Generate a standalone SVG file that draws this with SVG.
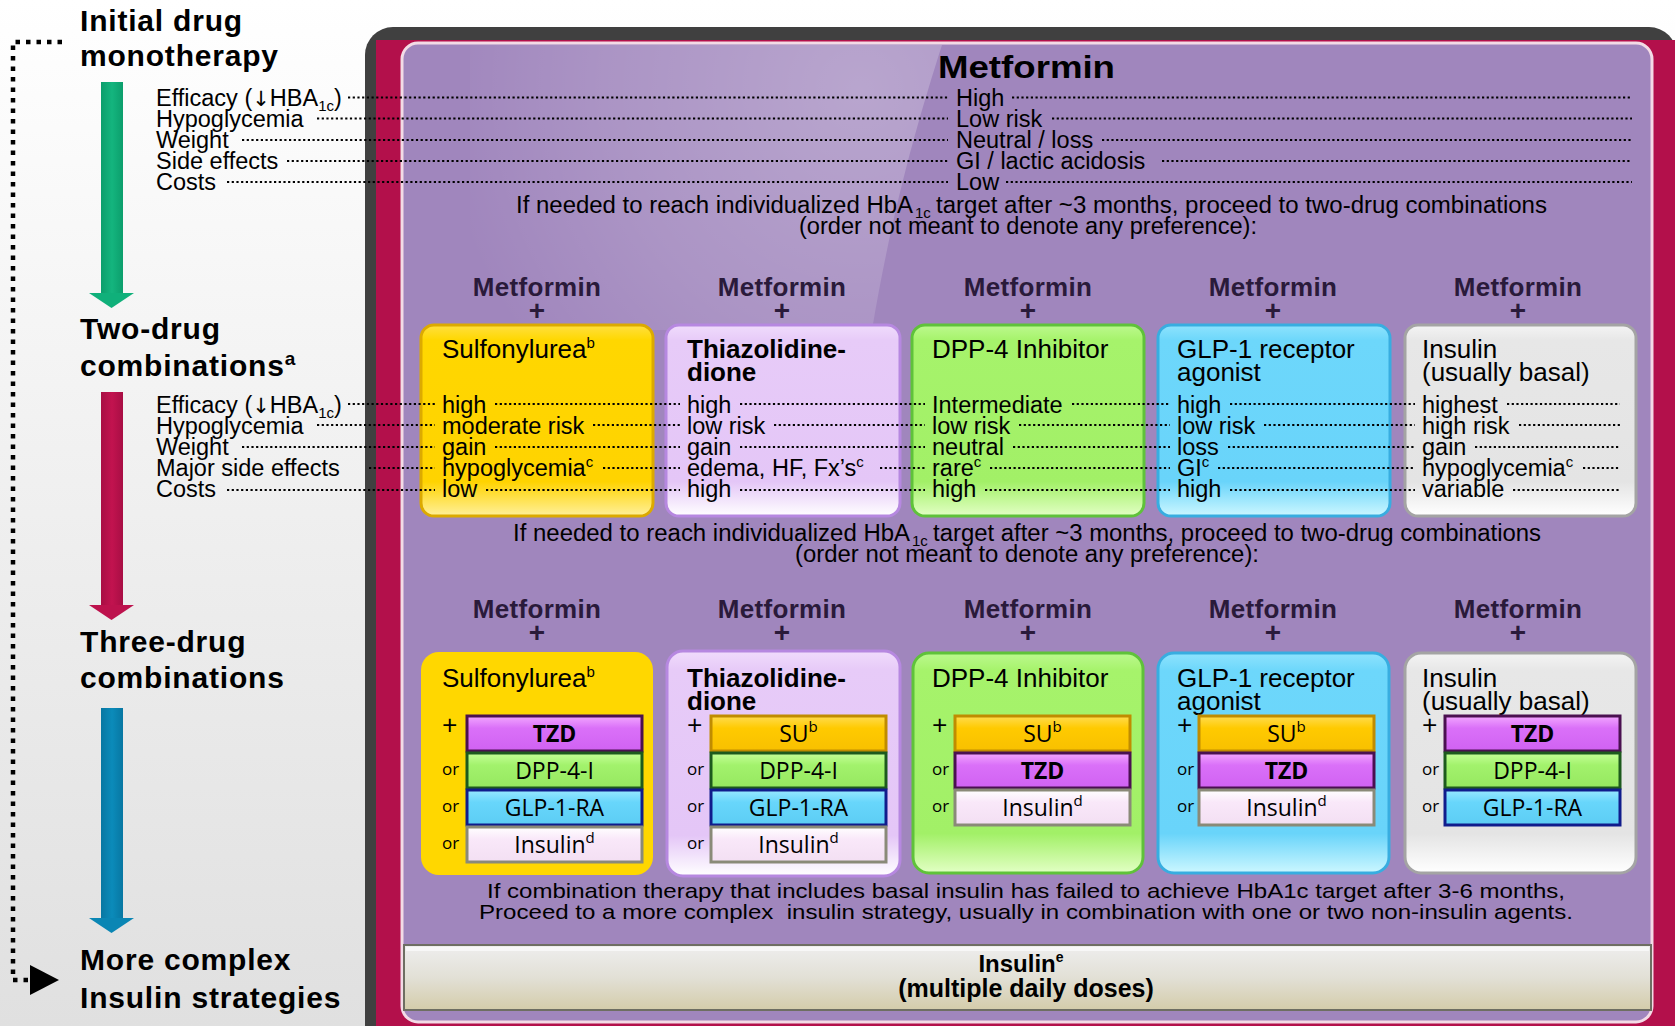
<svg xmlns="http://www.w3.org/2000/svg" width="1675" height="1026" viewBox="0 0 1675 1026">
<defs>
<style>
text{font-family:"Liberation Sans",Arial,sans-serif;fill:#000}
.h{font-size:30px;font-weight:bold;letter-spacing:0.8px}
.hs{font-size:19px}
.lb{font-size:23.5px}
.ar{font-family:"DejaVu Sans",sans-serif;font-size:21px}
.st{font-size:23.5px}
.bt{font-size:21px}
.mf{font-size:26px;font-weight:bold;fill:#2a1a3a;text-anchor:middle;letter-spacing:0.3px}
.pl{font-size:28px;font-weight:bold;fill:#2a1a3a;text-anchor:middle}
.ti{font-size:26px}
.tb{font-size:26px;font-weight:bold}
.dot{stroke:#000;stroke-width:2.2;stroke-dasharray:2.2 2.5;fill:none}
.sx{font-family:"Open Sans","Liberation Sans",sans-serif;font-size:23px;text-anchor:middle}
.sxb{font-family:"Open Sans","Liberation Sans",sans-serif;font-size:23px;font-weight:bold;text-anchor:middle}
.or{font-family:"Open Sans","Liberation Sans",sans-serif;font-size:17px}
.pp{font-family:"Open Sans","Liberation Sans",sans-serif;font-size:27px}
.bY{fill:url(#gY);stroke:#dcaa00;stroke-width:3}
.bT{fill:url(#gT);stroke:#b688e0;stroke-width:3}
.bD{fill:url(#gD);stroke:#5fc23a;stroke-width:3}
.bG{fill:url(#gG);stroke:#38ade0;stroke-width:3}
.bI{fill:url(#gI);stroke:#a4a4a4;stroke-width:3}
.sTZD{fill:url(#sT);stroke:#4a1050;stroke-width:3}
.sDPP{fill:url(#sD);stroke:#1d5a1d;stroke-width:3}
.sGLP{fill:url(#sG);stroke:#101c8c;stroke-width:3}
.sINS{fill:url(#sI);stroke:#8a8a78;stroke-width:3}
.sSU{fill:url(#sS);stroke:#c08c00;stroke-width:3}
</style>
<linearGradient id="bgL" x1="0" y1="0" x2="0" y2="1"><stop offset="0" stop-color="#ffffff"/><stop offset="0.5" stop-color="#efefef"/><stop offset="1" stop-color="#e0e0e0"/></linearGradient>
<linearGradient id="gY" x1="0" y1="0" x2="0" y2="1"><stop offset="0" stop-color="#ffe040"/><stop offset="0.08" stop-color="#ffd700"/><stop offset="0.82" stop-color="#ffd300"/><stop offset="1" stop-color="#fff09a"/></linearGradient>
<linearGradient id="gT" x1="0" y1="0" x2="0" y2="1"><stop offset="0" stop-color="#f0dcfc"/><stop offset="0.08" stop-color="#e7cbf8"/><stop offset="0.82" stop-color="#e4c6f7"/><stop offset="1" stop-color="#ffffff"/></linearGradient>
<linearGradient id="gD" x1="0" y1="0" x2="0" y2="1"><stop offset="0" stop-color="#bcf98e"/><stop offset="0.08" stop-color="#a6f36b"/><stop offset="0.82" stop-color="#a2f067"/><stop offset="1" stop-color="#e2ffc4"/></linearGradient>
<linearGradient id="gG" x1="0" y1="0" x2="0" y2="1"><stop offset="0" stop-color="#8ee3fd"/><stop offset="0.08" stop-color="#6dd7fb"/><stop offset="0.82" stop-color="#69d4fa"/><stop offset="1" stop-color="#ccf7ff"/></linearGradient>
<linearGradient id="gI" x1="0" y1="0" x2="0" y2="1"><stop offset="0" stop-color="#f4f4f4"/><stop offset="0.08" stop-color="#e7e7e7"/><stop offset="0.82" stop-color="#e4e4e4"/><stop offset="1" stop-color="#ffffff"/></linearGradient>
<linearGradient id="sT" x1="0" y1="0" x2="0" y2="1"><stop offset="0" stop-color="#f2a6ff"/><stop offset="0.35" stop-color="#da70f8"/><stop offset="1" stop-color="#d062f2"/></linearGradient>
<linearGradient id="sD" x1="0" y1="0" x2="0" y2="1"><stop offset="0" stop-color="#c6ff98"/><stop offset="0.35" stop-color="#a2f26c"/><stop offset="1" stop-color="#96e860"/></linearGradient>
<linearGradient id="sG" x1="0" y1="0" x2="0" y2="1"><stop offset="0" stop-color="#98e8ff"/><stop offset="0.35" stop-color="#68d6fb"/><stop offset="1" stop-color="#5ccdf4"/></linearGradient>
<linearGradient id="sI" x1="0" y1="0" x2="0" y2="1"><stop offset="0" stop-color="#ffffff"/><stop offset="0.35" stop-color="#f9e8f9"/><stop offset="1" stop-color="#f3dff3"/></linearGradient>
<linearGradient id="sS" x1="0" y1="0" x2="0" y2="1"><stop offset="0" stop-color="#ffdc50"/><stop offset="0.35" stop-color="#ffca00"/><stop offset="1" stop-color="#f8c000"/></linearGradient>
<linearGradient id="barG" x1="0" y1="0" x2="0" y2="1"><stop offset="0" stop-color="#eeeeee"/><stop offset="0.5" stop-color="#e2e0d6"/><stop offset="1" stop-color="#d4ccaa"/></linearGradient>
<radialGradient id="gloss" gradientUnits="userSpaceOnUse" cx="860" cy="90" r="420"><stop offset="0" stop-color="#ffffff" stop-opacity="0.26"/><stop offset="0.6" stop-color="#ffffff" stop-opacity="0.12"/><stop offset="1" stop-color="#ffffff" stop-opacity="0"/></radialGradient>
<linearGradient id="arG" x1="0" y1="0" x2="1" y2="0"><stop offset="0" stop-color="#0c9e6c"/><stop offset="0.5" stop-color="#14b57e"/><stop offset="1" stop-color="#0c9e6c"/></linearGradient>
<linearGradient id="arR" x1="0" y1="0" x2="1" y2="0"><stop offset="0" stop-color="#a80e44"/><stop offset="0.5" stop-color="#c2134f"/><stop offset="1" stop-color="#a80e44"/></linearGradient>
<linearGradient id="arB" x1="0" y1="0" x2="1" y2="0"><stop offset="0" stop-color="#0877a2"/><stop offset="0.5" stop-color="#0b8bba"/><stop offset="1" stop-color="#0877a2"/></linearGradient>
</defs>

<!-- backgrounds -->
<rect x="0" y="0" width="1675" height="1026" fill="url(#bgL)"/>
<g id="frame">
<rect x="365" y="27" width="1312" height="1100" rx="28" fill="#404040"/>
<rect x="376" y="40" width="1300" height="990" fill="#b3104b"/>
<rect x="402" y="43" width="1250" height="979" rx="16" fill="#a086bd" stroke="#f3dbe6" stroke-width="3"/>
<path d="M 470 45 L 942 45 C 918 120 892 210 872 330 L 470 330 Z" fill="url(#gloss)"/>
</g>

<!-- left stage headings -->
<g id="stage-initial"><text class="h" x="80" y="31">Initial drug</text><text class="h" x="80" y="66">monotherapy</text></g>
<g id="stage-two"><text class="h" x="80" y="339">Two-drug</text><text class="h" x="80" y="376">combinations<tspan class="hs" dy="-11">a</tspan></text></g>
<g id="stage-three"><text class="h" x="80" y="652">Three-drug</text><text class="h" x="80" y="688">combinations</text></g>
<g id="stage-complex"><text class="h" x="80" y="970">More complex</text><text class="h" x="80" y="1008">Insulin strategies</text></g>

<!-- criteria labels -->
<g id="criteria-mono">
<text class="lb" x="156" y="106">Efficacy (<tspan class="ar">↓</tspan>HBA<tspan font-size="15" dy="5">1c</tspan><tspan dy="-5">)</tspan></text>
<text class="lb" x="156" y="127">Hypoglycemia</text>
<text class="lb" x="156" y="148">Weight</text>
<text class="lb" x="156" y="169">Side effects</text>
<text class="lb" x="156" y="190">Costs</text>
</g>
<g id="criteria-two">
<text class="lb" x="156" y="413">Efficacy (<tspan class="ar">↓</tspan>HBA<tspan font-size="15" dy="5">1c</tspan><tspan dy="-5">)</tspan></text>
<text class="lb" x="156" y="434">Hypoglycemia</text>
<text class="lb" x="156" y="455">Weight</text>
<text class="lb" x="156" y="476">Major side effects</text>
<text class="lb" x="156" y="497">Costs</text>
</g>

<!-- metformin monotherapy -->
<g id="metformin-mono">
<text x="938" y="78" font-size="31" font-weight="bold" textLength="177" lengthAdjust="spacingAndGlyphs">Metformin</text>
<text class="lb" x="956" y="106">High</text>
<text class="lb" x="956" y="127">Low risk</text>
<text class="lb" x="956" y="148">Neutral / loss</text>
<text class="lb" x="956" y="169">GI / lactic acidosis</text>
<text class="lb" x="956" y="190">Low</text>
</g>
<g id="note-1">
<text class="st" x="516" y="213" textLength="397" lengthAdjust="spacingAndGlyphs">If needed to reach individualized HbA</text>
<text x="915" y="218" font-size="15">1c</text>
<text class="st" x="936" y="213" textLength="611" lengthAdjust="spacingAndGlyphs">target after ~3 months, proceed to two-drug combinations</text>
<text class="st" x="1028" y="234" text-anchor="middle" textLength="458" lengthAdjust="spacingAndGlyphs">(order not meant to denote any preference):</text>
</g>

<!-- two-drug combinations -->
<g id="two-su">
<text class="mf" x="537" y="296">Metformin</text><text class="pl" x="537" y="320">+</text>
<rect class="bY" x="421" y="325" width="232" height="191" rx="13"/>
<text class="ti" x="442" y="358">Sulfonylurea<tspan font-size="15" dy="-10">b</tspan></text>
<text class="lb" x="442" y="413">high</text>
<text class="lb" x="442" y="434">moderate risk</text>
<text class="lb" x="442" y="455">gain</text>
<text class="lb" x="442" y="476">hypoglycemia<tspan font-size="15" dy="-9">c</tspan></text>
<text class="lb" x="442" y="497">low</text>
</g>
<g id="two-tzd">
<text class="mf" x="782" y="296">Metformin</text><text class="pl" x="782" y="320">+</text>
<rect class="bT" x="666" y="325" width="234" height="191" rx="13"/>
<text class="tb" x="687" y="358">Thiazolidine-</text>
<text class="tb" x="687" y="381">dione</text>
<text class="lb" x="687" y="413">high</text>
<text class="lb" x="687" y="434">low risk</text>
<text class="lb" x="687" y="455">gain</text>
<text class="lb" x="687" y="476">edema, HF, Fx’s<tspan font-size="15" dy="-9">c</tspan></text>
<text class="lb" x="687" y="497">high</text>
</g>
<g id="two-dpp4">
<text class="mf" x="1028" y="296">Metformin</text><text class="pl" x="1028" y="320">+</text>
<rect class="bD" x="912" y="325" width="232" height="191" rx="13"/>
<text class="ti" x="932" y="358">DPP-4 Inhibitor</text>
<text class="lb" x="932" y="413">Intermediate</text>
<text class="lb" x="932" y="434">low risk</text>
<text class="lb" x="932" y="455">neutral</text>
<text class="lb" x="932" y="476">rare<tspan font-size="15" dy="-9">c</tspan></text>
<text class="lb" x="932" y="497">high</text>
</g>
<g id="two-glp1">
<text class="mf" x="1273" y="296">Metformin</text><text class="pl" x="1273" y="320">+</text>
<rect class="bG" x="1158" y="325" width="232" height="191" rx="13"/>
<text class="ti" x="1177" y="358">GLP-1 receptor</text>
<text class="ti" x="1177" y="381">agonist</text>
<text class="lb" x="1177" y="413">high</text>
<text class="lb" x="1177" y="434">low risk</text>
<text class="lb" x="1177" y="455">loss</text>
<text class="lb" x="1177" y="476">GI<tspan font-size="15" dy="-9">c</tspan></text>
<text class="lb" x="1177" y="497">high</text>
</g>
<g id="two-insulin">
<text class="mf" x="1518" y="296">Metformin</text><text class="pl" x="1518" y="320">+</text>
<rect class="bI" x="1405" y="325" width="231" height="191" rx="13"/>
<text class="ti" x="1422" y="358">Insulin</text>
<text class="ti" x="1422" y="381">(usually basal)</text>
<text class="lb" x="1422" y="413">highest</text>
<text class="lb" x="1422" y="434">high risk</text>
<text class="lb" x="1422" y="455">gain</text>
<text class="lb" x="1422" y="476">hypoglycemia<tspan font-size="15" dy="-9">c</tspan></text>
<text class="lb" x="1422" y="497">variable</text>
</g>
<g id="note-2">
<text class="st" x="513" y="541" textLength="397" lengthAdjust="spacingAndGlyphs">If needed to reach individualized HbA</text>
<text x="912" y="546" font-size="15">1c</text>
<text class="st" x="933" y="541" textLength="608" lengthAdjust="spacingAndGlyphs">target after ~3 months, proceed to two-drug combinations</text>
<text class="st" x="1027" y="562" text-anchor="middle" textLength="464" lengthAdjust="spacingAndGlyphs">(order not meant to denote any preference):</text>
</g>

<!-- three-drug combinations -->
<g id="three-su">
<text class="mf" x="537" y="618">Metformin</text><text class="pl" x="537" y="642">+</text>
<rect x="421" y="652" width="232" height="223" rx="18" fill="#ffd700"/>
<text class="ti" x="442" y="687">Sulfonylurea<tspan font-size="15" dy="-10">b</tspan></text>
<text class="pp" x="442" y="735">+</text>
<rect class="sTZD" x="467" y="716" width="175" height="35"/><text class="sxb" x="554.5" y="742">TZD</text>
<text class="or" x="442" y="775">or</text>
<rect class="sDPP" x="467" y="753" width="175" height="35"/><text class="sx" x="554.5" y="779">DPP-4-I</text>
<text class="or" x="442" y="812">or</text>
<rect class="sGLP" x="467" y="790" width="175" height="35"/><text class="sx" x="554.5" y="816">GLP-1-RA</text>
<text class="or" x="442" y="849">or</text>
<rect class="sINS" x="467" y="827" width="175" height="35"/><text class="sx" x="554.5" y="853">Insulin<tspan font-size="15" dy="-10">d</tspan></text>
</g>
<g id="three-tzd">
<text class="mf" x="782" y="618">Metformin</text><text class="pl" x="782" y="642">+</text>
<rect class="bT" x="667" y="651" width="233" height="225" rx="16"/>
<text class="tb" x="687" y="687">Thiazolidine-</text>
<text class="tb" x="687" y="710">dione</text>
<text class="pp" x="687" y="735">+</text>
<rect class="sSU" x="711" y="716" width="175" height="35"/><text class="sx" x="798.5" y="742">SU<tspan font-size="15" dy="-10">b</tspan></text>
<text class="or" x="687" y="775">or</text>
<rect class="sDPP" x="711" y="753" width="175" height="35"/><text class="sx" x="798.5" y="779">DPP-4-I</text>
<text class="or" x="687" y="812">or</text>
<rect class="sGLP" x="711" y="790" width="175" height="35"/><text class="sx" x="798.5" y="816">GLP-1-RA</text>
<text class="or" x="687" y="849">or</text>
<rect class="sINS" x="711" y="827" width="175" height="35"/><text class="sx" x="798.5" y="853">Insulin<tspan font-size="15" dy="-10">d</tspan></text>
</g>
<g id="three-dpp4">
<text class="mf" x="1028" y="618">Metformin</text><text class="pl" x="1028" y="642">+</text>
<rect class="bD" x="913" y="653" width="230" height="220" rx="16"/>
<text class="ti" x="932" y="687">DPP-4 Inhibitor</text>
<text class="pp" x="932" y="735">+</text>
<rect class="sSU" x="955" y="716" width="175" height="35"/><text class="sx" x="1042.5" y="742">SU<tspan font-size="15" dy="-10">b</tspan></text>
<text class="or" x="932" y="775">or</text>
<rect class="sTZD" x="955" y="753" width="175" height="35"/><text class="sxb" x="1042.5" y="779">TZD</text>
<text class="or" x="932" y="812">or</text>
<rect class="sINS" x="955" y="790" width="175" height="35"/><text class="sx" x="1042.5" y="816">Insulin<tspan font-size="15" dy="-10">d</tspan></text>
</g>
<g id="three-glp1">
<text class="mf" x="1273" y="618">Metformin</text><text class="pl" x="1273" y="642">+</text>
<rect class="bG" x="1158" y="653" width="231" height="220" rx="16"/>
<text class="ti" x="1177" y="687">GLP-1 receptor</text>
<text class="ti" x="1177" y="710">agonist</text>
<text class="pp" x="1177" y="735">+</text>
<rect class="sSU" x="1199" y="716" width="175" height="35"/><text class="sx" x="1286.5" y="742">SU<tspan font-size="15" dy="-10">b</tspan></text>
<text class="or" x="1177" y="775">or</text>
<rect class="sTZD" x="1199" y="753" width="175" height="35"/><text class="sxb" x="1286.5" y="779">TZD</text>
<text class="or" x="1177" y="812">or</text>
<rect class="sINS" x="1199" y="790" width="175" height="35"/><text class="sx" x="1286.5" y="816">Insulin<tspan font-size="15" dy="-10">d</tspan></text>
</g>
<g id="three-insulin">
<text class="mf" x="1518" y="618">Metformin</text><text class="pl" x="1518" y="642">+</text>
<rect class="bI" x="1405" y="653" width="231" height="220" rx="16"/>
<text class="ti" x="1422" y="687">Insulin</text>
<text class="ti" x="1422" y="710">(usually basal)</text>
<text class="pp" x="1422" y="735">+</text>
<rect class="sTZD" x="1445" y="716" width="175" height="35"/><text class="sxb" x="1532.5" y="742">TZD</text>
<text class="or" x="1422" y="775">or</text>
<rect class="sDPP" x="1445" y="753" width="175" height="35"/><text class="sx" x="1532.5" y="779">DPP-4-I</text>
<text class="or" x="1422" y="812">or</text>
<rect class="sGLP" x="1445" y="790" width="175" height="35"/><text class="sx" x="1532.5" y="816">GLP-1-RA</text>
</g>
<g id="note-3">
<text class="bt" x="487" y="898" textLength="1078" lengthAdjust="spacingAndGlyphs">If combination therapy that includes basal insulin has failed to achieve HbA1c target after 3-6 months,</text>
<text class="bt" x="479" y="919" textLength="1094" lengthAdjust="spacingAndGlyphs" xml:space="preserve">Proceed to a more complex  insulin strategy, usually in combination with one or two non-insulin agents.</text>
</g>

<!-- complex insulin -->
<g id="insulin-mdi">
<rect x="404" y="945" width="1247" height="65" fill="url(#barG)" stroke="#6e6e62" stroke-width="2"/>
<rect x="406" y="947" width="1243" height="4" fill="#ffffff" opacity="0.6"/>
<text x="1021" y="972" font-size="24" font-weight="bold" text-anchor="middle">Insulin<tspan font-size="14" dy="-10">e</tspan></text>
<text x="1026" y="997" font-size="25" font-weight="bold" text-anchor="middle">(multiple daily doses)</text>
</g>

<!-- connectors -->
<g id="connectors">
<rect x="101" y="82" width="22" height="212" fill="url(#arG)"/>
<polygon points="89,293 134,293 111.5,308" fill="#10b07a"/>
<rect x="101" y="392" width="22" height="214" fill="url(#arR)"/>
<polygon points="89,605 134,605 111.5,620" fill="#bd124d"/>
<rect x="101" y="708" width="22" height="211" fill="url(#arB)"/>
<polygon points="89,918 134,918 111.5,933" fill="#0a86b4"/>
<path d="M 62 42 H 13 V 980 H 30" fill="none" stroke="#000" stroke-width="4.5" stroke-dasharray="4.5 6"/>
<polygon points="30,965 59,980 30,995" fill="#000"/>

<!-- leader dots: monotherapy -->
<path class="dot" d="M348 97.5H948M1012 97.5H1632 M317 118.5H948M1052 118.5H1632 M242 140H948M1102 140H1632 M287 161H948M1162 161H1632 M227 182H948M1006 182H1632"/>
<!-- leader dots: two-drug -->
<path class="dot" d="M348 404H435M495 404H680M740 404H925M1072 404H1170M1230 404H1415M1507 404H1620"/>
<path class="dot" d="M317 425H435M593 425H680M774 425H925M1019 425H1170M1264 425H1415M1519 425H1620"/>
<path class="dot" d="M242 447H435M495 447H680M740 447H925M1013 447H1170M1228 447H1415M1475 447H1620"/>
<path class="dot" d="M369 468H435M603 468H680M880 468H925M990 468H1170M1218 468H1415M1583 468H1620"/>
<path class="dot" d="M227 490H435M486 490H680M740 490H925M985 490H1170M1230 490H1415M1513 490H1620"/>
</g>
</svg>
